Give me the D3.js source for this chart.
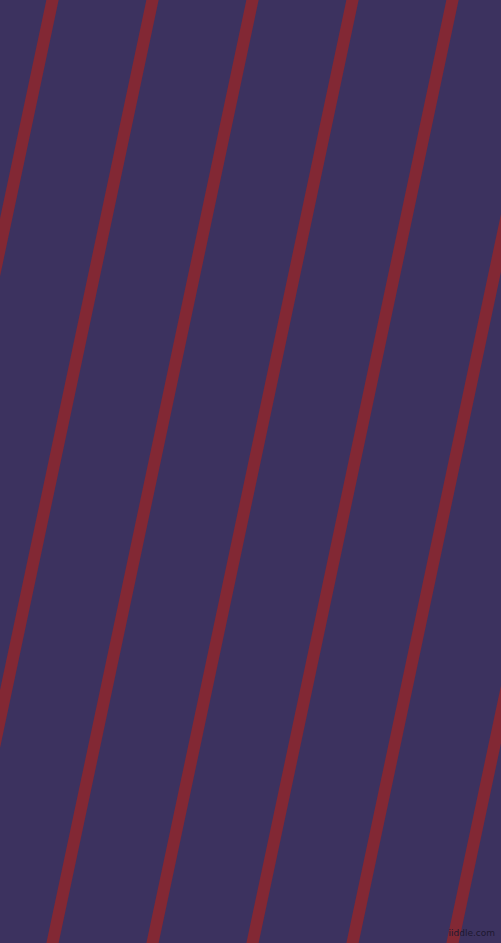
<!DOCTYPE html>
<html>
<head>
<meta charset="utf-8">
<script src="https://cdn.jsdelivr.net/npm/d3@7"></script>
<style>
  html, body { margin: 0; padding: 0; background: #3c325f; overflow: hidden; }
  svg { display: block; }
</style>
</head>
<body>
<div id="chart"></div>
<script>
// stripe indices, and where each one sits along the top and bottom edge (in stripe units)
let stripes    = [0, 1, 2, 3, 4, 5, 6],
    topPos     = [0, 1, 2, 3, 4, 5, 6],
    bottomPos  = [-2, -1, 0, 1, 2, 3, 4],
    watermark  = ['iiddle.com']

function draw(selector) {
  let W = 501, H = 943,
      svg = d3.select(selector).append('svg')
              .attr('width', W)
              .attr('height', H),
      x = d3.scaleLinear().domain([0, 1]).range([52.5, 152.5]),
      y = d3.scaleLinear().domain([0, 1]).range([0, H])

  svg.append('rect')
    .attr('width', W)
    .attr('height', H)
    .attr('fill', '#3c325f')

  svg.selectAll('line.stripe')
    .data(stripes)
    .enter()
    .append('line')
    .attr('class', 'stripe')
    .attr('x1', (d, i) => x(topPos[i]))
    .attr('y1', y(0) - 20)
    .attr('x2', (d, i) => x(bottomPos[i]))
    .attr('y2', y(1) + 20)
    // nudge ends so the line keeps its slope past the edges
    .attr('x1', (d, i) => x(topPos[i]) + (x(topPos[i]) - x(bottomPos[i])) * 20 / H)
    .attr('x2', (d, i) => x(bottomPos[i]) - (x(topPos[i]) - x(bottomPos[i])) * 20 / H)
    .attr('stroke', '#822834')
    .attr('stroke-width', 12)

  svg.selectAll('text.mark')
    .data(watermark)
    .enter()
    .append('text')
    .attr('class', 'mark')
    .attr('x', W - 6)
    .attr('y', H - 7)
    .attr('text-anchor', 'end')
    .attr('font-family', 'DejaVu Sans, sans-serif')
    .attr('font-size', 9)
    .attr('fill', '#1c1830')
    .text(d => d)
}

draw('#chart')
</script>
</body>
</html>
